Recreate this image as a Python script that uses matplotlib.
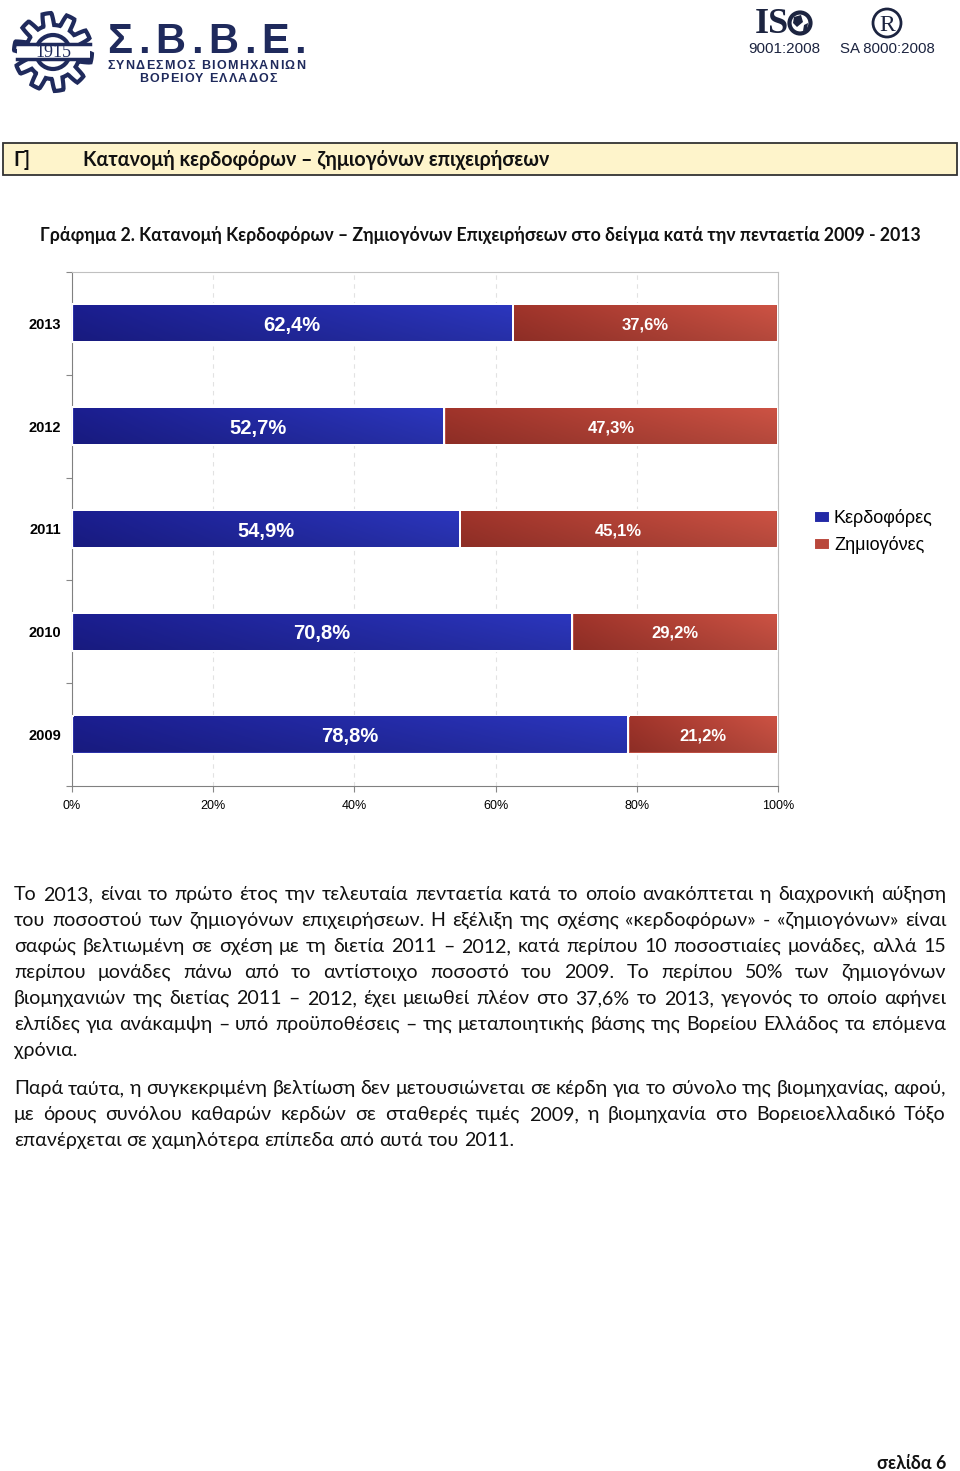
import numpy as np
import matplotlib
matplotlib.use('Agg')
import matplotlib.pyplot as plt
from matplotlib.patches import Rectangle, Polygon, Circle
from matplotlib.colors import to_rgb

# Data
years = ['2009', '2010', '2011', '2012', '2013']
profitable = [78.8, 70.8, 54.9, 52.7, 62.4]
loss_making = [21.2, 29.2, 45.1, 47.3, 37.6]
series_names = ['Κερδοφόρες', 'Ζημιογόνες']
x_ticks = [0, 20, 40, 60, 80, 100]

header_tag = 'Γ]'
header = 'Κατανομή κερδοφόρων – ζημιογόνων επιχειρήσεων'
chart_title = ('Γράφημα 2. Κατανομή Κερδοφόρων – Ζημιογόνων Επιχειρήσεων '
               'στο δείγμα κατά την πενταετία 2009 - 2013')
para1 = [
    'Το 2013, είναι το πρώτο έτος την τελευταία πενταετία κατά το οποίο ανακόπτεται η διαχρονική αύξηση',
    'του ποσοστού των ζημιογόνων επιχειρήσεων. Η εξέλιξη της σχέσης «κερδοφόρων» - «ζημιογόνων» είναι',
    'σαφώς βελτιωμένη σε σχέση με τη διετία 2011 – 2012, κατά περίπου 10 ποσοστιαίες μονάδες, αλλά 15',
    'περίπου μονάδες πάνω από το αντίστοιχο ποσοστό του 2009. Το περίπου 50% των ζημιογόνων',
    'βιομηχανιών της διετίας 2011 – 2012, έχει μειωθεί πλέον στο 37,6% το 2013, γεγονός το οποίο αφήνει',
    'ελπίδες για ανάκαμψη – υπό προϋποθέσεις – της μεταποιητικής βάσης της Βορείου Ελλάδος τα επόμενα',
    'χρόνια.',
]
para2 = [
    'Παρά ταύτα, η συγκεκριμένη βελτίωση δεν μετουσιώνεται σε κέρδη για το σύνολο της βιομηχανίας, αφού,',
    'με όρους συνόλου καθαρών κερδών σε σταθερές τιμές 2009, η βιομηχανία στο Βορειοελλαδικό Τόξο',
    'επανέρχεται σε χαμηλότερα επίπεδα από αυτά του 2011.',
]
page_label = 'σελίδα 6'

BODY = ['Lato', 'DejaVu Sans']
ARIAL = ['Liberation Sans', 'DejaVu Sans']
NAVY = '#1f2a5c'
BLUE = '#2329a6'
RED = '#b9473b'

fig = plt.figure(figsize=(9.6, 14.71), dpi=100)
renderer = fig.canvas.get_renderer()

# page overlay in pixel coordinates
page = fig.add_axes([0, 0, 1, 1], zorder=0)
page.set_xlim(0, 960)
page.set_ylim(1471, 0)
page.axis('off')


def fit_text(x, y, s, width, **kw):
    t = page.text(x, y, s, fontsize=10, **kw)
    w = t.get_window_extent(renderer).width
    t.set_fontsize(10 * width / w)
    return t


def measure(s, **kw):
    t = page.text(0, 0, s, **kw)
    w = t.get_window_extent(renderer).width
    t.remove()
    return w


def spread_text(x0, x1, y, s, **kw):
    # letters spaced evenly to fill [x0, x1]
    ws = [measure(c, **kw) for c in s]
    gap = (x1 - x0 - sum(ws)) / (len(s) - 1)
    x = x0
    for c, w in zip(s, ws):
        page.text(x, y, c, ha='left', va='baseline', **kw)
        x += w + gap


# --- logo (left) ---
th = np.linspace(0, 2 * np.pi, 400)
teeth = 10
r = 33 + 6 * np.clip(np.sin(teeth * th) * 2.5, -1, 1)
gear = Polygon(np.column_stack([53 + r * np.cos(th), 52 + r * np.sin(th)]),
               closed=True, facecolor='white', edgecolor=NAVY, lw=3)
page.add_patch(gear)
page.add_patch(Circle((53, 52), 17, facecolor='white', edgecolor=NAVY, lw=3))
page.add_patch(Rectangle((17, 44), 73, 15, facecolor='white', edgecolor='none'))
page.plot([17, 90], [44, 44], color=NAVY, lw=2.5)
page.plot([17, 90], [59, 59], color=NAVY, lw=2.5)
fit_text(53, 57, '1915', 36, ha='center', va='baseline', color=NAVY,
         family=['Liberation Serif', 'DejaVu Serif'])
spread_text(107, 306, 53, 'Σ.Β.Β.Ε.', fontsize=30, color=NAVY,
            fontweight='bold', family=ARIAL)
spread_text(107, 305, 69, 'ΣΥΝΔΕΣΜΟΣ ΒΙΟΜΗΧΑΝΙΩΝ', fontsize=9, color=NAVY,
            fontweight='bold', family=ARIAL)
spread_text(139, 277, 82, 'ΒΟΡΕΙΟΥ ΕΛΛΑΔΟΣ', fontsize=9, color=NAVY,
            fontweight='bold', family=ARIAL)

# --- logo (right) ---
fit_text(755, 33, 'IS', 34, ha='left', va='baseline', color='#1c2440',
         fontweight='bold', family=['Liberation Serif', 'DejaVu Serif'])
page.add_patch(Circle((800, 23), 10.5, facecolor='white', edgecolor='#1c2440', lw=3))
page.add_patch(Polygon([[794, 17], [801, 15], [803, 22], [797, 27], [793, 23]],
                       closed=True, facecolor='#1c2440', edgecolor='none'))
page.add_patch(Polygon([[804, 25], [808, 23], [807, 30], [803, 31]],
                       closed=True, facecolor='#1c2440', edgecolor='none'))
fit_text(748, 53, '9001:2008', 72, ha='left', va='baseline', color='#1c2440',
         family=ARIAL)
page.add_patch(Circle((887, 23), 14, facecolor='white', edgecolor='#1c2440', lw=2))
fit_text(887, 31, 'R', 16, ha='center', va='baseline', color='#1c2440',
         family=['Liberation Serif', 'DejaVu Serif'])
fit_text(840, 53, 'SA 8000:2008', 95, ha='left', va='baseline', color='#1c2440',
         family=ARIAL)

# --- section header ---
page.add_patch(Rectangle((3, 143), 954, 32, facecolor='#fef4cb',
                         edgecolor='#333333', lw=1.3))
hdr = fit_text(83, 166, header, 466, ha='left', va='baseline',
               fontweight='bold', family=BODY, color='#111111')
page.text(13, 166, header_tag, fontsize=hdr.get_fontsize(), ha='left',
          va='baseline', fontweight='bold', family=BODY, color='#111111')

fit_text(40, 241, chart_title, 880, ha='left', va='baseline',
         fontweight='bold', family=BODY, color='#111111')

# --- chart ---
ax = fig.add_axes([72 / 960, 1 - 786 / 1471, 706 / 960, 514 / 1471], zorder=2)
ax.patch.set_alpha(0)
ypos = np.arange(len(years))
h = 0.37
b1 = ax.barh(ypos, profitable, height=h, color=BLUE, edgecolor='white',
             lw=1.5, label=series_names[0], zorder=3)
b2 = ax.barh(ypos, loss_making, left=profitable, height=h, color=RED,
             edgecolor='white', lw=1.5, label=series_names[1], zorder=3)


def gradient(bars, c_left, c_right):
    cl, cr = np.array(to_rgb(c_left)), np.array(to_rgb(c_right))
    for bar in bars:
        x0, y0 = bar.get_x(), bar.get_y()
        w, hh = bar.get_width(), bar.get_height()
        t = np.linspace(0, 1, 64)[None, :, None]
        v = np.linspace(0.92, 1.04, 16)[:, None, None]
        img = np.clip((cl * (1 - t) + cr * t) * v, 0, 1)
        ax.imshow(img, extent=(x0 + 0.25, x0 + w - 0.25, y0 + 0.012, y0 + hh - 0.012),
                  aspect='auto', origin='lower', zorder=3.5, interpolation='bilinear')


gradient(b1, '#1a1d8a', '#2a34b6')
gradient(b2, '#9a3229', '#c44f41')

for i in range(len(years)):
    ax.text(profitable[i] / 2, ypos[i], f'{profitable[i]:.1f}%'.replace('.', ','),
            ha='center', va='center_baseline', color='white', fontsize=14.5,
            fontweight='bold', family=ARIAL, zorder=5)
    ax.text(profitable[i] + loss_making[i] / 2, ypos[i],
            f'{loss_making[i]:.1f}%'.replace('.', ','),
            ha='center', va='center_baseline', color='white', fontsize=12,
            fontweight='bold', family=ARIAL, zorder=5)

ax.set_xlim(0, 100)
ax.set_ylim(-0.5, len(years) - 0.5)
ax.set_xticks(x_ticks)
ax.set_xticklabels([f'{v}%' for v in x_ticks], family=ARIAL, fontsize=9)
ax.set_yticks(np.arange(-0.5, len(years)))
ax.set_yticklabels([])
ax.set_yticks(ypos, minor=True)
ax.set_yticklabels(years, minor=True, family=ARIAL, fontsize=10.5,
                   fontweight='bold')
ax.tick_params(axis='y', which='minor', length=0, pad=8)
ax.tick_params(axis='y', which='major', length=4, color='#888888')
ax.tick_params(axis='x', length=4, color='#888888', pad=6)
ax.xaxis.grid(True, linestyle=(0, (4, 4)), color='#e2e2e2', lw=0.8, zorder=0)
ax.set_axisbelow(True)
for side in ['left', 'bottom']:
    ax.spines[side].set_color('#808080')
for side in ['top', 'right']:
    ax.spines[side].set_color('#c0c0c0')
ax.legend(loc='upper left', bbox_to_anchor=(1.028, 0.57), frameon=False,
          handlelength=0.9, handleheight=0.6, handletextpad=0.2,
          labelspacing=0.5, prop={'family': ARIAL, 'size': 13})

# --- body text ---
body_fs = 10 * 500 / measure(para2[-1], fontsize=10, family=BODY)
space_w = (measure('a a', fontsize=body_fs, family=BODY)
           - measure('aa', fontsize=body_fs, family=BODY))
LEFT, RIGHT = 14, 946


def draw_paragraph(lines, y0, step=26):
    for k, line in enumerate(lines):
        y = y0 + k * step
        words = line.split(' ')
        widths = [measure(wd, fontsize=body_fs, family=BODY) for wd in words]
        if k < len(lines) - 1 and len(words) > 1:
            gap = (RIGHT - LEFT - sum(widths)) / (len(words) - 1)
        else:
            gap = space_w
        x = LEFT
        for wd, w in zip(words, widths):
            page.text(x, y, wd, fontsize=body_fs, family=BODY, ha='left',
                      va='baseline', color='#111111')
            x += w + gap


draw_paragraph(para1, 900)
draw_paragraph(para2, 1094)

fit_text(946, 1469, page_label, 69, ha='right', va='baseline',
         fontweight='bold', family=BODY, color='#111111')

fig.savefig('out.png', dpi=100)
